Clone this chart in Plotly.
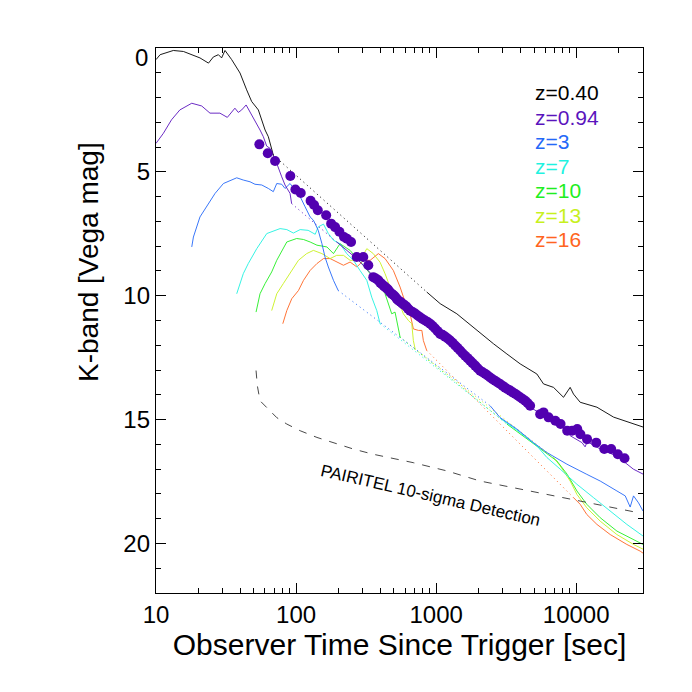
import plotly.graph_objects as go
import math

# ---------------- data (time in sec, K-band Vega mag) ----------------
z040_t = [10, 10.7, 13.3, 15.7, 20.6, 23.7, 25.7, 27.9, 29.4, 31.1, 34.7, 39.8, 44.4, 48.2, 53.8, 56.9, 60.1, 63.4, 67.0, 68.8]
z040_m = [0.47, 0.27, 0.10, 0.14, 0.40, 0.61, 0.36, 0.27, 0.40, 0.10, 0.47, 1.01, 1.69, 2.16, 2.50, 2.90, 3.31, 3.58, 4.12, 4.32]
z040_gap_t = [68.8, 857]
z040_gap_m = [4.32, 9.85]
z040_late_t = [857, 1069, 1406, 1955, 2570, 3200, 3981, 5240, 5845, 6890, 8120, 9060, 9570, 10680, 14060, 18500, 25700, 30000]
z040_late_m = [9.85, 10.32, 10.73, 11.40, 11.94, 12.35, 12.75, 13.16, 13.56, 13.70, 14.10, 13.70, 13.97, 14.30, 14.50, 14.90, 15.18, 15.30]

z094_t = [10, 11.3, 12.9, 14.8, 18.0, 21.2, 24.3, 28.6, 32.3, 34.7, 36.6, 38.7, 40.9, 44.0, 46.9, 50.9, 55.3, 58.4, 61.7, 65.2, 72.8, 79.0, 83.4, 90.6, 93.0]
z094_m = [3.85, 3.44, 2.90, 2.50, 2.23, 2.34, 2.63, 2.63, 2.80, 2.57, 2.43, 2.60, 2.50, 2.30, 2.57, 2.90, 3.31, 3.58, 3.96, 4.05, 4.66, 5.20, 5.53, 5.87, 6.28]
z094_gap_t = [93.0, 195]
z094_gap_m = [6.28, 7.83]
z094_late_t = [195, 271, 400, 700, 1259, 2432, 4691, 7740, 9060, 11000, 11580, 12000, 15000, 20000, 22400, 25600, 30000]
z094_late_m = [7.83, 8.50, 9.50, 10.75, 11.85, 13.35, 14.50, 15.25, 15.65, 15.93, 16.10, 15.89, 16.20, 16.50, 16.74, 17.00, 17.20]

z3_t = [18.0, 18.5, 20.6, 23.0, 26.4, 30.3, 37.7, 42.0, 46.9, 50.9, 56.9, 63.4, 68.8, 72.8, 79.0, 83.4, 90.6, 98.4, 107, 116, 126, 133, 144, 153, 161, 170, 185, 200]
z3_m = [8.03, 7.63, 6.82, 6.41, 5.87, 5.47, 5.24, 5.33, 5.40, 5.50, 5.53, 5.67, 5.80, 5.47, 5.50, 5.67, 5.47, 5.74, 6.00, 6.41, 6.82, 6.95, 7.36, 7.90, 8.44, 8.84, 9.38, 9.79]
z3_gap_t = [200, 2430]
z3_gap_m = [9.79, 14.44]
z3_late_t = [2430, 2865, 3767, 4955, 6180, 8590, 11910, 14840, 19530, 22400, 24300, 25670, 27870, 30000]
z3_late_m = [14.44, 14.92, 15.38, 15.93, 16.33, 16.80, 17.21, 17.48, 17.88, 18.08, 18.53, 18.08, 18.36, 18.69]

z7_t = [37.7, 42.0, 45.6, 52.4, 61.8, 68.8, 76.9, 85.9, 95.7, 107, 122, 137, 144, 157, 170, 185, 206, 230, 257, 286, 320, 347, 377, 398]
z7_m = [9.92, 9.11, 8.70, 8.10, 7.49, 7.38, 7.29, 7.33, 7.47, 7.33, 7.36, 7.52, 7.22, 7.11, 7.49, 7.76, 7.90, 8.30, 8.57, 8.98, 9.38, 10.06, 10.60, 11.13]
z7_gap_t = [398, 2865]
z7_gap_m = [11.13, 14.95]
z7_late_t = [2865, 3767, 5240, 6180, 7690, 10120, 13300, 17500, 23000, 30000]
z7_late_m = [14.95, 15.42, 16.06, 16.53, 17.00, 17.61, 18.15, 18.69, 19.23, 19.70]

z10_t = [51.8, 55.3, 60.1, 67.0, 72.8, 85.9, 101, 113, 126, 141, 166, 185, 206, 224, 243, 272, 295, 338, 377, 432, 482, 509, 538, 553]
z10_m = [10.66, 9.92, 9.51, 9.04, 8.57, 7.83, 7.69, 7.73, 7.83, 7.96, 8.03, 8.30, 7.90, 8.03, 8.17, 8.50, 8.70, 9.11, 9.38, 9.92, 10.73, 10.66, 11.40, 11.67]
z10_gap_t = [553, 3200]
z10_gap_m = [11.67, 15.18]
z10_late_t = [3200, 3981, 5240, 7280, 8630, 10120, 11910, 14840, 19530, 25670, 30000]
z10_late_m = [15.18, 15.57, 16.06, 16.67, 17.21, 17.88, 18.42, 18.96, 19.50, 19.84, 20.04]

z13_t = [67.0, 72.8, 81.1, 90.6, 104, 119, 133, 153, 175, 195, 218, 243, 286, 320, 356, 398, 432, 469, 524, 584, 634, 670, 688, 708]
z13_m = [10.60, 9.92, 9.51, 9.11, 8.57, 8.30, 8.17, 8.30, 8.50, 8.37, 8.37, 8.57, 8.57, 8.10, 8.30, 8.65, 9.11, 9.65, 10.06, 10.73, 11.00, 11.13, 11.81, 12.15]
z13_gap_t = [708, 6890]
z13_gap_m = [12.15, 16.53]
z13_late_t = [6890, 7690, 9060, 10120, 11910, 14840, 19530, 25670, 30000]
z13_late_m = [16.53, 16.87, 17.48, 18.02, 18.56, 19.10, 19.64, 20.04, 20.23]

z16_t = [80.4, 85.9, 93.2, 104, 113, 126, 141, 157, 175, 195, 218, 243, 272, 303, 338, 387, 432, 495, 553, 601, 652, 688, 748, 791, 811, 857]
z16_m = [11.13, 10.60, 10.12, 9.79, 9.38, 8.98, 8.70, 8.50, 8.50, 8.64, 8.77, 8.64, 8.84, 8.57, 8.57, 8.30, 8.50, 8.98, 9.65, 10.26, 10.73, 11.34, 11.40, 11.40, 11.81, 12.21]
z16_gap_t = [857, 9570]
z16_gap_m = [12.21, 18.15]
z16_late_t = [9570, 10680, 11910, 14060, 17500, 23000, 28640, 30000]
z16_late_m = [18.15, 18.42, 18.83, 19.23, 19.64, 20.04, 20.31, 20.39]

# observed afterglow (filled circles)
obs_t = [54.7, 62.8, 70.8, 91, 98.9, 108, 127, 134.5, 143, 164, 178, 190, 204, 220, 231, 247,
         271, 302, 328, 356, 370, 387, 400, 411, 422, 432, 443, 454, 468, 482, 495, 509, 523, 537, 555, 572, 590, 611,
         630, 652, 680, 708, 738, 769, 800, 834, 870, 906, 945, 984, 1025,
         1069, 1110, 1159, 1210, 1259, 1310, 1368, 1420, 1483, 1545, 1611, 1680, 1750, 1820, 1900, 1980, 2062, 2150,
         2239, 2330, 2432, 2530, 2636, 2750, 2865, 2990, 3112, 3240, 3379, 3520, 3666, 3820,
         3981, 4150, 4325, 4500, 4691, 5533, 5845, 6350, 7100, 7740, 8630, 9360, 10180, 10720, 11960, 13900, 15870,
         17780, 19830, 22140]
obs_m = [3.89, 4.25, 4.56, 5.17, 5.71, 5.85, 6.17, 6.34, 6.55, 6.75, 7.09, 7.23, 7.42, 7.63, 7.70, 7.83,
         8.44, 8.44, 8.77, 9.25, 9.30, 9.38, 9.48, 9.54, 9.60, 9.65, 9.70, 9.75, 9.85, 9.92, 9.97, 10.03, 10.12, 10.19, 10.24, 10.31, 10.36, 10.43,
         10.52, 10.60, 10.66, 10.72, 10.80, 10.87, 10.94, 11.00, 11.06, 11.13, 11.22, 11.32, 11.43,
         11.54, 11.58, 11.65, 11.73, 11.81, 11.90, 12.01, 12.10, 12.21, 12.32, 12.42, 12.52, 12.62, 12.72, 12.82, 12.93, 13.03, 13.09,
         13.15, 13.22, 13.30, 13.37, 13.43, 13.50, 13.56, 13.64, 13.71, 13.77, 13.83, 13.90, 13.96, 14.03,
         14.10, 14.17, 14.24, 14.33, 14.44, 14.78, 14.71, 14.91, 15.05, 15.18, 15.45, 15.45, 15.38, 15.59, 15.79, 15.93, 16.19,
         16.19, 16.40, 16.56]

# PAIRITEL 10-sigma detection limit
lim_t = [51.8, 52.9, 55.3, 61.8, 72.8, 85.9, 107, 141, 185, 257, 356, 688, 1191, 2062, 3565, 6180, 10690, 18490, 27870]
lim_m = [13.02, 13.63, 14.24, 14.51, 14.92, 15.18, 15.45, 15.72, 15.93, 16.19, 16.40, 16.74, 17.07, 17.48, 17.75, 18.02, 18.29, 18.56, 18.76]

legend_labels = ["z=0.40", "z=0.94", "z=3", "z=7", "z=10", "z=13", "z=16"]
x_ticks = [10, 100, 1000, 10000]
y_ticks = [5, 10, 15, 20]

# ---------------- styling ----------------
colors = ["#000000", "#5a14bd", "#2468f8", "#1ff2e0", "#20ee20", "#c8f01e", "#ff6420"]
dot_color = "#5200b0"
FONT = "Liberation Sans"

# page body adds an 8px offset; plot frame should sit at x 156..643, y 48..593
L, R, T, B = 148, 57, 40, 107
PW = 692 - L - R
PH = 692 - T - B

fig = go.Figure()

series = [
    (z040_t, z040_m, z040_gap_t, z040_gap_m, z040_late_t, z040_late_m),
    (z094_t, z094_m, z094_gap_t, z094_gap_m, z094_late_t, z094_late_m),
    (z3_t, z3_m, z3_gap_t, z3_gap_m, z3_late_t, z3_late_m),
    (z7_t, z7_m, z7_gap_t, z7_gap_m, z7_late_t, z7_late_m),
    (z10_t, z10_m, z10_gap_t, z10_gap_m, z10_late_t, z10_late_m),
    (z13_t, z13_m, z13_gap_t, z13_gap_m, z13_late_t, z13_late_m),
    (z16_t, z16_m, z16_gap_t, z16_gap_m, z16_late_t, z16_late_m),
]

for i in reversed(range(len(series))):
    et, em, gt, gm, lt, lm = series[i]
    c = colors[i]
    fig.add_trace(go.Scatter(x=et, y=em, mode="lines", line=dict(color=c, width=0.9),
                             showlegend=False, hoverinfo="skip"))
    fig.add_trace(go.Scatter(x=gt, y=gm, mode="lines", line=dict(color=c, width=1.0, dash="1px,3.5px"),
                             showlegend=False, hoverinfo="skip"))
    fig.add_trace(go.Scatter(x=lt, y=lm, mode="lines", line=dict(color=c, width=0.9),
                             showlegend=False, hoverinfo="skip"))

fig.add_trace(go.Scatter(x=lim_t, y=lim_m, mode="lines",
                         line=dict(color="#333333", width=0.9, dash="8px,8px"),
                         showlegend=False, hoverinfo="skip"))

fig.add_trace(go.Scatter(x=obs_t, y=obs_m, mode="markers",
                         marker=dict(color=dot_color, size=10, line=dict(width=0)),
                         showlegend=False))

annotations = []
leg_y0 = 93
for k, (lab, c) in enumerate(zip(legend_labels, colors)):
    ypix = leg_y0 + k * 24.4
    annotations.append(dict(xref="paper", yref="paper", x=(533 - 156) / PW, y=1 - (ypix - 48) / PH,
                            xanchor="left", yanchor="middle", text=lab, showarrow=False,
                            font=dict(family=FONT, size=21, color=c)))

annotations.append(dict(xref="x", yref="y", x=math.log10(906), y=18.08, text="PAIRITEL 10-sigma Detection",
                        showarrow=False, textangle=13, font=dict(family=FONT, size=17, color="#000000")))
# top "0" tick label (placed just below the frame as in the original)
annotations.append(dict(xref="paper", yref="y", x=0, y=0.4, xanchor="right", yanchor="middle",
                        xshift=-6, text="0", showarrow=False, font=dict(family=FONT, size=24, color="#000000")))
# y-axis title (sits above the frame centre in the original)
annotations.append(dict(xref="paper", yref="paper", x=(88 - 156) / PW, y=1 - (262 - 48) / PH,
                        xanchor="center", yanchor="middle", text="K-band [Vega mag]", textangle=-90,
                        showarrow=False, font=dict(family=FONT, size=28, color="#000000")))

fig.update_layout(
    width=692, height=692,
    margin=dict(l=L, r=R, t=T, b=B),
    paper_bgcolor="white", plot_bgcolor="white",
    font=dict(family=FONT, color="#000000"),
    annotations=annotations,
    showlegend=False,
)

fig.update_xaxes(
    type="log", range=[1, math.log10(30000)],
    tickvals=x_ticks, ticktext=[str(v) for v in x_ticks],
    ticks="inside", ticklen=10, tickwidth=1, tickcolor="black",
    showline=True, linecolor="black", linewidth=1.3, mirror="allticks",
    showgrid=False, zeroline=False,
    minor=dict(ticks="inside", ticklen=5, tickwidth=1, tickcolor="black", showgrid=False,
               dtick="D1"),
    tickfont=dict(family=FONT, size=24),
    title=dict(text="Observer Time Since Trigger [sec]", font=dict(family=FONT, size=30), standoff=2),
)
fig.update_yaxes(
    range=[22, 0],
    tickvals=y_ticks, ticktext=[str(v) for v in y_ticks],
    ticks="inside", ticklen=10, tickwidth=1, tickcolor="black",
    showline=True, linecolor="black", linewidth=1.3, mirror="allticks",
    showgrid=False, zeroline=False,
    minor=dict(ticks="inside", ticklen=5, tickwidth=1, tickcolor="black", showgrid=False,
               tickvals=list(range(1, 22))),
    tickfont=dict(family=FONT, size=24),
)

fig.write_html("out.html")
